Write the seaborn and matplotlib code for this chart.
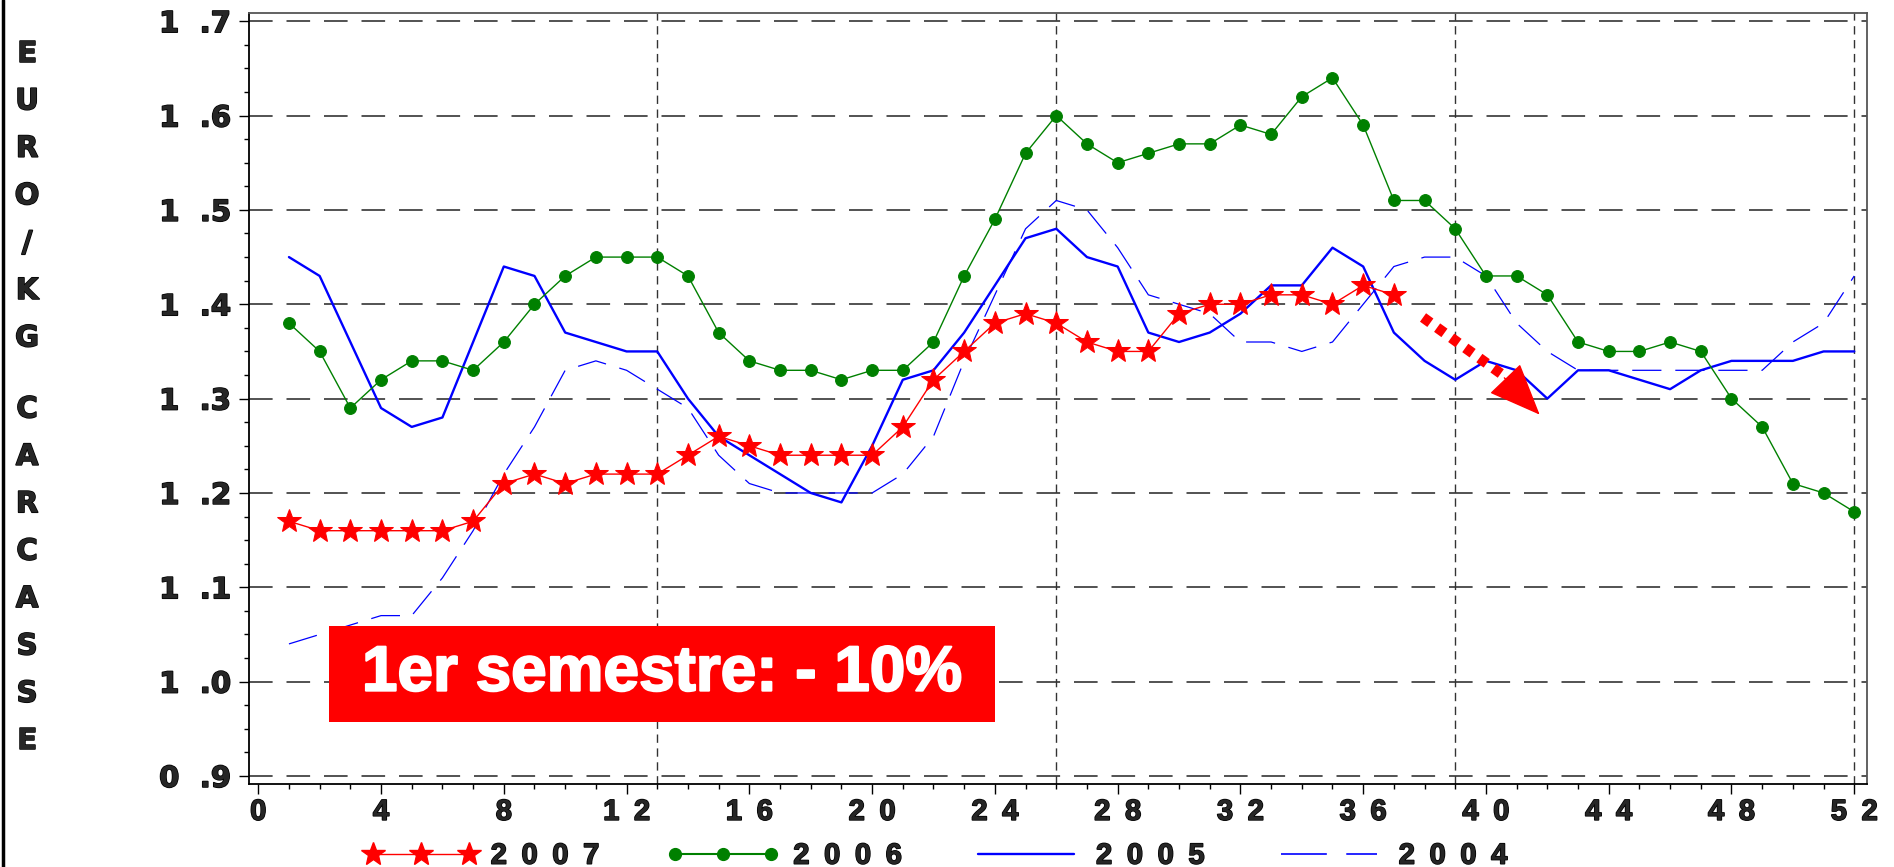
import numpy as np
import pandas as pd
import matplotlib
matplotlib.use("Agg")
import matplotlib.pyplot as plt
import matplotlib.patheffects as pe
import seaborn as sns
from matplotlib import font_manager as fm
from matplotlib.lines import Line2D
from matplotlib.patches import Rectangle
from matplotlib.ticker import MultipleLocator

# ---------------- data ----------------
weeks_full = list(range(1, 53))
weeks_2007 = list(range(1, 38))

y2007 = [1.17, 1.16, 1.16, 1.16, 1.16, 1.16, 1.17, 1.21, 1.22, 1.21,
         1.22, 1.22, 1.22, 1.24, 1.26, 1.25, 1.24, 1.24, 1.24, 1.24,
         1.27, 1.32, 1.35, 1.38, 1.39, 1.38, 1.36, 1.35, 1.35, 1.39,
         1.40, 1.40, 1.41, 1.41, 1.40, 1.42, 1.41]
y2006 = [1.38, 1.35, 1.29, 1.32, 1.34, 1.34, 1.33, 1.36, 1.40, 1.43,
         1.45, 1.45, 1.45, 1.43, 1.37, 1.34, 1.33, 1.33, 1.32, 1.33,
         1.33, 1.36, 1.43, 1.49, 1.56, 1.60, 1.57, 1.55, 1.56, 1.57,
         1.57, 1.59, 1.58, 1.62, 1.64, 1.59, 1.51, 1.51, 1.48, 1.43,
         1.43, 1.41, 1.36, 1.35, 1.35, 1.36, 1.35, 1.30, 1.27, 1.21,
         1.20, 1.18]
y2005 = [1.45, 1.43, 1.36, 1.29, 1.27, 1.28, 1.36, 1.44, 1.43, 1.37,
         1.36, 1.35, 1.35, 1.30, 1.26, 1.24, 1.22, 1.20, 1.19, 1.25,
         1.32, 1.33, 1.37, 1.42, 1.47, 1.48, 1.45, 1.44, 1.37, 1.36,
         1.37, 1.39, 1.42, 1.42, 1.46, 1.44, 1.37, 1.34, 1.32, 1.34,
         1.33, 1.30, 1.33, 1.33, 1.32, 1.31, 1.33, 1.34, 1.34, 1.34,
         1.35, 1.35]
y2004 = [1.04, 1.05, 1.06, 1.07, 1.07, 1.11, 1.16, 1.22, 1.27, 1.33,
         1.34, 1.33, 1.31, 1.29, 1.24, 1.21, 1.20, 1.20, 1.20, 1.20,
         1.22, 1.26, 1.34, 1.41, 1.48, 1.51, 1.50, 1.46, 1.41, 1.40,
         1.39, 1.36, 1.36, 1.35, 1.36, 1.40, 1.44, 1.45, 1.45, 1.43,
         1.38, 1.35, 1.33, 1.33, 1.33, 1.33, 1.33, 1.33, 1.33, 1.36,
         1.38, 1.43]

series_labels = ["2007", "2006", "2005", "2004"]
x_ticks = list(range(0, 53, 4))
y_ticks = [0.9, 1.0, 1.1, 1.2, 1.3, 1.4, 1.5, 1.6, 1.7]
quarter_weeks = [13, 26, 39, 52]
ylabel_text = "EURO/KG CARCASSE"
box_text = "1er semestre: - 10%"

# ---------------- fonts ----------------
names = {f.name for f in fm.fontManager.ttflist}
ARIAL = "Liberation Sans" if "Liberation Sans" in names else "DejaVu Sans"
FAM = [ARIAL, "DejaVu Sans"]
WIDE = "DejaVu Sans"
EN = "\u2002"  # en space between digits

sns.set_theme(style="white")
plt.rcParams["font.family"] = FAM
plt.rcParams["lines.scale_dashes"] = False

fig = plt.figure(figsize=(18.94, 8.67), dpi=100)
ax = fig.add_axes([0.1315, 0.0957, 0.9855 - 0.1315, 0.985 - 0.0957])

RED = "#ff0000"
GREEN = "#008000"
BLUE = "#0000ff"
bold_stroke = [pe.withStroke(linewidth=1.1, foreground="black")]

# gridlines (drawn under data)
for yv in y_ticks:
    ax.axhline(yv, color="#444444", lw=1.3, linestyle=(0, (17, 10)), zorder=1)
for xv in quarter_weeks:
    ax.axvline(xv, color="#333333", lw=1.0, linestyle=(0, (6, 4)), zorder=1)

# series
sns.lineplot(x=weeks_full, y=y2004, ax=ax, color=BLUE, lw=0.9,
             linestyle=(0, (21, 10)), zorder=3, legend=False)
sns.lineplot(x=weeks_full, y=y2005, ax=ax, color=BLUE, lw=1.7, zorder=4,
             legend=False)
sns.lineplot(x=weeks_full, y=y2006, ax=ax, color=GREEN, lw=1.0, marker="o",
             markersize=8.5, markeredgecolor=GREEN, markerfacecolor=GREEN,
             zorder=5, legend=False)
sns.lineplot(x=weeks_2007, y=y2007, ax=ax, color=RED, lw=1.0, marker="*",
             markersize=18, markeredgecolor=RED, markerfacecolor=RED,
             zorder=6, legend=False)

# axes limits & ticks
ax.set_xlim(-0.3, 52.4)
ax.set_ylim(0.8915, 1.7087)
ax.set_xticks(x_ticks)
ax.set_xticklabels([EN.join(str(v)) for v in x_ticks],
                   fontsize=21, fontweight="bold", family=FAM)
ax.xaxis.set_minor_locator(MultipleLocator(1))
ax.set_yticks(y_ticks)
ax.set_yticklabels(["{}  .{}".format(*f"{v:.1f}".split(".")) for v in y_ticks],
                   fontsize=21, fontweight="bold", family=WIDE)
ax.yaxis.set_minor_locator(MultipleLocator(0.025))
for lbl in ax.get_xticklabels() + ax.get_yticklabels():
    lbl.set_path_effects(bold_stroke)
ax.tick_params(axis="both", which="major", direction="out", length=7,
               width=1, color="black", bottom=True, left=True)
ax.tick_params(axis="both", which="minor", direction="out", length=3.5,
               width=1, color="black", bottom=True, left=True)
ax.tick_params(axis="x", which="major", pad=3)
ax.tick_params(axis="y", which="major", pad=6)
ax.grid(False)
for side in ["left", "bottom"]:
    ax.spines[side].set_color("black")
    ax.spines[side].set_linewidth(1.3)
for side in ["top", "right"]:
    ax.spines[side].set_color("#555555")
    ax.spines[side].set_linewidth(1.3)
ax.set_xlabel("")
ax.set_ylabel("")

# annotation box
ax.add_patch(Rectangle((2.31, 0.957), 21.7, 0.1025, facecolor=RED,
                       edgecolor="none", zorder=7))
ax.text(13.15, 1.0085, box_text, color="white", fontsize=46,
        fontweight="bold", family=FAM, ha="center", va="center", zorder=8,
        path_effects=[pe.withStroke(linewidth=1.5, foreground="white")])

# dotted arrow
ax.plot([37.95, 40.85], [1.386, 1.318], color=RED, lw=7.5,
        linestyle=(0, (6.5, 6.0)), dash_capstyle="butt", zorder=7)
ax.annotate("", xy=(41.75, 1.283), xytext=(40.6, 1.322),
            arrowprops=dict(arrowstyle="-|>,head_length=1.7,head_width=0.7",
                            mutation_scale=20, color=RED, lw=1,
                            shrinkA=0, shrinkB=0),
            zorder=7)

# vertical stacked y label
fig_h = 867.0
step = 47.4
ypix = 54.0
for ch in ylabel_text:
    if ch == " ":
        ypix += step * 0.5
        continue
    fig.text(0.0143, 1 - ypix / fig_h, ch, fontsize=21, fontweight="bold",
             family=WIDE, ha="center", va="center", path_effects=bold_stroke)
    ypix += step

# left frame line
fig.add_artist(Line2D([0.0016, 0.0016], [0, 1], color="black", lw=2.5,
                      transform=fig.transFigure))

# legend
handles = [
    Line2D([], [], color=RED, lw=1.0, marker="*", markersize=18,
           markerfacecolor=RED, markeredgecolor=RED),
    Line2D([], [], color=GREEN, lw=1.5, marker="o", markersize=8.5,
           markerfacecolor=GREEN, markeredgecolor=GREEN),
    Line2D([], [], color=BLUE, lw=1.7),
    Line2D([], [], color=BLUE, lw=1.2, linestyle=(0, (33, 14))),
]
leg = fig.legend(handles, [EN.join(s) for s in series_labels], loc="center",
                 bbox_to_anchor=(0.494, 0.013), ncol=4, frameon=False,
                 numpoints=3, handlelength=3.9, handletextpad=0.45,
                 columnspacing=2.3,
                 prop=dict(family=FAM, weight="bold", size=21))
for t in leg.get_texts():
    t.set_path_effects(bold_stroke)

fig.savefig("out.png", dpi=100)
